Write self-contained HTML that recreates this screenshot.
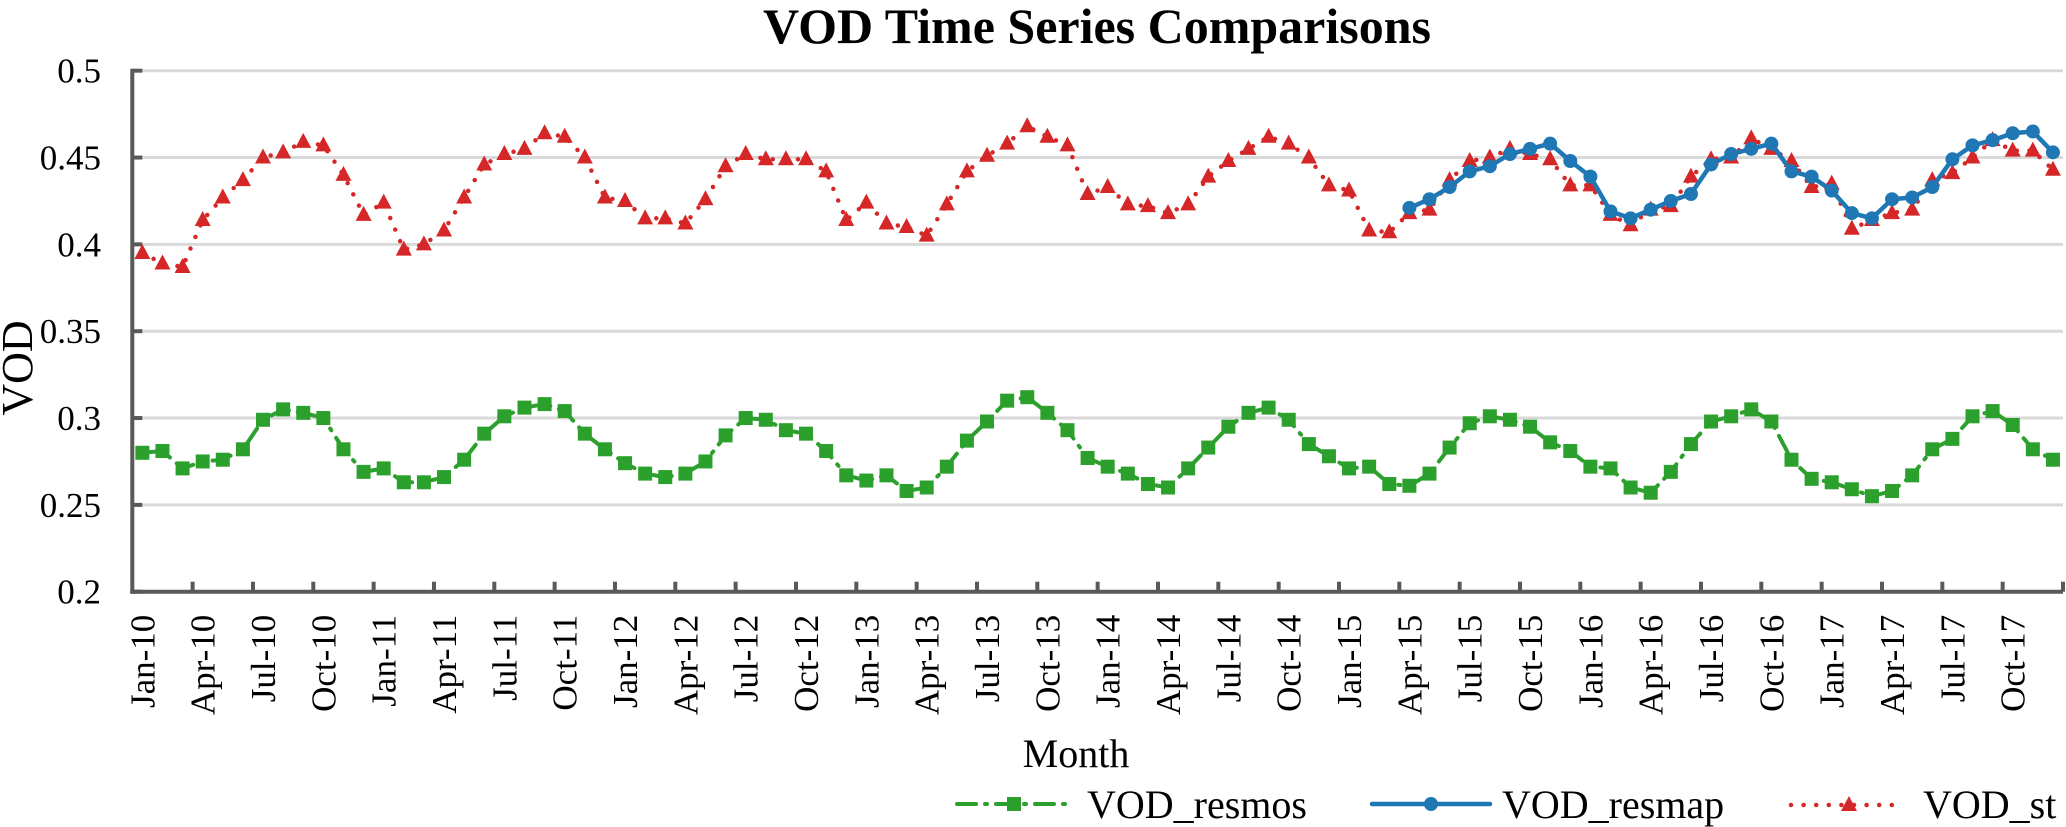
<!DOCTYPE html>
<html><head><meta charset="utf-8"><style>
html,body{margin:0;padding:0;background:#fff;}
svg{display:block;font-family:"Liberation Serif",serif;}
</style></head><body>
<svg id="chart" width="2066" height="827" viewBox="0 0 2066 827">
<text x="1097" y="43" text-anchor="middle" font-size="50" font-weight="bold">VOD Time Series Comparisons</text>
<g id="grid"></g><g id="axes"></g><g id="series"></g>
<text transform="translate(32,368) rotate(-90)" text-anchor="middle" font-size="44">VOD</text>
<text x="1076" y="767" text-anchor="middle" font-size="40">Month</text>
<g>
 <g>
  <line x1="957" y1="804" x2="1073" y2="804" stroke="#2ca02c" stroke-width="4" stroke-dasharray="19 9 2 9" stroke-linecap="round"/>
  <rect x="1007" y="797" width="14" height="14" fill="#2ca02c"/>
  <text x="1087" y="818" font-size="40">VOD_resmos</text>
 </g>
 <g>
  <line x1="1372" y1="804" x2="1490" y2="804" stroke="#1f77b4" stroke-width="4.5" stroke-linecap="round"/>
  <circle cx="1431" cy="804" r="7" fill="#1f77b4"/>
  <text x="1502" y="818" font-size="40">VOD_resmap</text>
 </g>
 <g>
  <line x1="1791" y1="805" x2="1903" y2="805" stroke="#d62728" stroke-width="4.5" stroke-dasharray="0 12.6" stroke-linecap="round"/>
  <polygon points="1849,796 1857,811 1841,811" fill="#d62728"/>
  <text x="1923" y="818" font-size="40">VOD_st</text>
 </g>
</g>
</svg>
<script>
const months = ["Jan","Feb","Mar","Apr","May","Jun","Jul","Aug","Sep","Oct","Nov","Dec"];
const years = ["10","11","12","13","14","15","16","17"];
const yTicks = [0.2,0.25,0.3,0.35,0.4,0.45,0.5];
const yTickLabels = ["0.2","0.25","0.3","0.35","0.4","0.45","0.5"];
const resmos = [
.280,.281,.271,.275,.276,.282,.299,.305,.303,.300,.282,.269,
.271,.263,.263,.266,.276,.291,.301,.306,.308,.304,.291,.282,
.274,.268,.266,.268,.275,.290,.300,.299,.293,.291,.281,.267,
.264,.267,.258,.260,.272,.287,.298,.310,.312,.303,.293,.277,
.272,.268,.262,.260,.271,.283,.295,.303,.306,.299,.285,.278,
.271,.272,.262,.261,.268,.283,.297,.301,.299,.295,.286,.281,
.272,.271,.260,.257,.269,.285,.298,.301,.305,.298,.276,.265,
.263,.259,.255,.258,.267,.282,.288,.301,.304,.296,.282,.276];
const st = [
.395,.389,.387,.414,.427,.437,.450,.453,.459,.457,.440,.417,
.424,.397,.400,.408,.427,.446,.452,.455,.464,.462,.450,.427,
.425,.415,.415,.412,.426,.445,.452,.449,.449,.449,.442,.414,
.424,.412,.410,.405,.423,.442,.451,.458,.468,.462,.457,.429,
.433,.423,.422,.418,.423,.439,.448,.455,.462,.458,.450,.434,
.431,.408,.407,.418,.420,.437,.448,.450,.455,.452,.449,.434,
.434,.417,.411,.420,.422,.439,.449,.450,.461,.455,.448,.433,
.435,.409,.414,.418,.420,.437,.441,.450,.460,.454,.454,.443];
const resmapStart = 63;
const resmap = [
.421,.426,.433,.442,.445,.452,.455,.458,.448,
.439,.419,.415,.420,.425,.429,.446,.452,.455,.458,.442,.439,
.431,.418,.415,.426,.427,.433,.449,.457,.460,.464,.465,.453];

const NS="http://www.w3.org/2000/svg";
const L=132.3,R=2063,T=70.7,B=591.7,N=96;
const step=(R-L)/N;
function xPos(i){return L+step*(i+0.5);}
function yPos(v){return B-(v-0.2)/(0.5-0.2)*(B-T);}
function mk(tag,attrs,parent){const e=document.createElementNS(NS,tag);for(const k in attrs)e.setAttribute(k,attrs[k]);parent.appendChild(e);return e;}
const grid=document.getElementById('grid'),axes=document.getElementById('axes'),ser=document.getElementById('series');

yTicks.forEach((v,k)=>{
  const y=yPos(v);
  if(k>0){const g=mk('line',{x1:L,x2:R,y1:y,y2:y,stroke:'#d9d9d9','stroke-width':3},grid);
    
    }
  const tk=mk('line',{x1:L,x2:L+10,y1:y,y2:y,stroke:'#595959','stroke-width':4},axes);
  
  
  const t=mk('text',{x:101,y:y+12,'text-anchor':'end','font-size':35},axes);
  t.textContent=yTickLabels[k];
  
  
});
const ya=mk('line',{x1:L,x2:L,y1:T-2,y2:B+2,stroke:'#595959','stroke-width':4},axes);


const xa=mk('line',{x1:L-2,x2:R,y1:B,y2:B,stroke:'#595959','stroke-width':4},axes);


for(let i=3;i<=N;i+=3){
  const x=L+step*i;
  const tk=mk('line',{x1:x,x2:x,y1:B,y2:B-10,stroke:'#595959','stroke-width':4},axes);
  
  
}
for(let i=0;i<N;i+=3){
  const x=xPos(i)+12;
  const t=mk('text',{transform:`translate(${x},${B+23}) rotate(-90)`,'text-anchor':'end','font-size':35},axes);
  t.textContent=months[i%12]+'-'+years[Math.floor(i/12)];
  
  
}
function pathOf(vals,off){return vals.map((v,k)=>(k?'L':'M')+xPos(k+off).toFixed(1)+','+yPos(v).toFixed(1)).join(' ');}

const gG=mk('g',{},ser);


const gl=mk('path',{d:pathOf(resmos,0),fill:'none',stroke:'#2ca02c','stroke-width':4,'stroke-dasharray':'19 9 2 9','stroke-linecap':'round'},gG);


resmos.forEach((v,k)=>{
  const r=mk('rect',{x:xPos(k)-7,y:yPos(v)-7,width:14,height:14,fill:'#2ca02c'},gG);
  
  
});
const gR=mk('g',{},ser);


const rl=mk('path',{d:pathOf(st,0),fill:'none',stroke:'#d62728','stroke-width':4.5,'stroke-dasharray':'0 12.6','stroke-linecap':'round'},gR);


st.forEach((v,k)=>{
  const x=xPos(k),y=yPos(v);
  const p=mk('polygon',{points:`${x},${y-9} ${x+8},${y+6} ${x-8},${y+6}`,fill:'#d62728'},gR);
  
  
});
const gB=mk('g',{},ser);


const bl=mk('path',{d:pathOf(resmap,resmapStart),fill:'none',stroke:'#1f77b4','stroke-width':4.5,'stroke-linejoin':'round'},gB);


resmap.forEach((v,k)=>{
  const c=mk('circle',{cx:xPos(k+resmapStart),cy:yPos(v),r:7,fill:'#1f77b4'},gB);
  
  
});
</script>
</body></html>
